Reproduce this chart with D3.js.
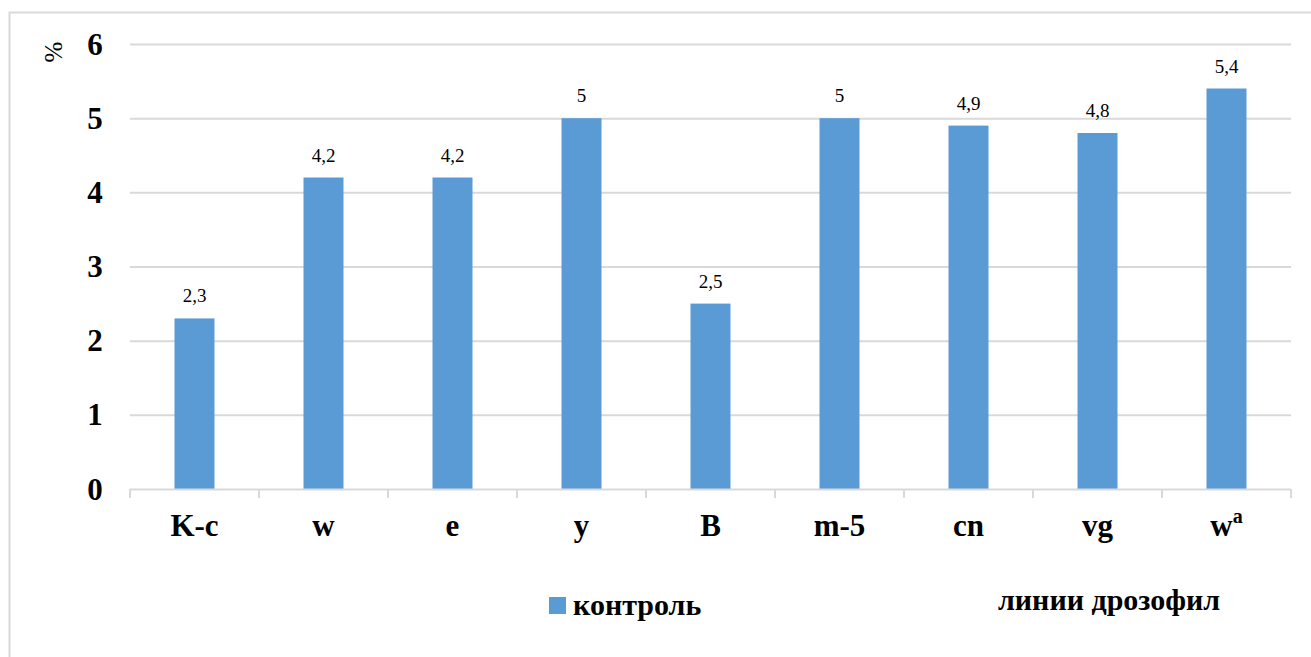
<!DOCTYPE html>
<html>
<head>
<meta charset="utf-8">
<script src="https://cdn.jsdelivr.net/npm/d3@7/dist/d3.min.js"></script>
</head>
<body style="margin:0">
<svg id="chart" width="1311" height="657"></svg>
<script>
// Drosophila lines and control values (%)
const categories = ["K-c", "w", "e", "y", "B", "m-5", "cn", "vg", "w^a"];
const controlValues = [2.3, 4.2, 4.2, 5, 2.5, 5, 4.9, 4.8, 5.4];
const yTicks = [0, 1, 2, 3, 4, 5, 6];
const seriesName = "контроль";
const xTitle = "линии дрозофил";
const yTitle = "%";

const chartW = 1311, chartH = 657;
const plotLeft = 130, plotRight = 1291, plotTop = 44, plotBottom = 489;
const barColor = "#5b9bd5";
const gridColor = "#d9d9d9";
const FONT = '"Liberation Serif"';

const svg = d3.select("#chart");

// chart frame
svg.append("path")
  .attr("d", `M9.5,${chartH} V12.5 H${chartW}`)
  .attr("fill", "none")
  .attr("stroke", gridColor)
  .attr("stroke-width", 2);

const x = d3.scaleBand().domain(categories).range([plotLeft, plotRight]).paddingInner(0.69).paddingOuter(0.345);
const xOuter = d3.scaleBand().domain(categories).range([plotLeft, plotRight]).padding(0);
const y = d3.scaleLinear().domain([0, 6]).range([plotBottom, plotTop]);

// horizontal gridlines
svg.selectAll("line.grid")
  .data(yTicks.filter(t => t > 0))
  .join("line")
  .attr("class", "grid")
  .attr("x1", plotLeft).attr("x2", plotRight)
  .attr("y1", d => y(d) + 0.5).attr("y2", d => y(d) + 0.5)
  .attr("stroke", gridColor).attr("stroke-width", 2);

const rows = categories.map((c, i) => ({ c, v: controlValues[i] }));

// bars
svg.selectAll("rect.bar")
  .data(rows)
  .join("rect")
  .attr("class", "bar")
  .attr("x", d => x(d.c))
  .attr("width", x.bandwidth())
  .attr("y", d => y(d.v))
  .attr("height", d => y(0) - y(d.v))
  .attr("fill", barColor);

// category axis line and tick marks
svg.append("line")
  .attr("x1", plotLeft).attr("x2", plotRight)
  .attr("y1", plotBottom + 0.5).attr("y2", plotBottom + 0.5)
  .attr("stroke", gridColor).attr("stroke-width", 2);
const tickXs = categories.map(c => xOuter(c)).concat([plotRight]);
svg.selectAll("line.tk")
  .data(tickXs)
  .join("line")
  .attr("class", "tk")
  .attr("x1", d => d).attr("x2", d => d)
  .attr("y1", plotBottom).attr("y2", plotBottom + 9)
  .attr("stroke", gridColor).attr("stroke-width", 2);

// all texts: tick labels, values, titles, legend
const texts = [];
yTicks.forEach(t => texts.push({ s: String(t), x: 95, y: y(t) + 10.5, size: 31, bold: true, anchor: "middle" }));
rows.forEach(d => texts.push({ s: String(d.v).replace(".", ","), x: x(d.c) + x.bandwidth() / 2, y: y(d.v) - 16, size: 19, bold: false, anchor: "middle" }));
categories.forEach(c => texts.push({ s: c, x: xOuter(c) + xOuter.bandwidth() / 2, y: 536, size: 31, bold: true, anchor: "middle" }));
texts.push({ s: seriesName, x: 573, y: 615, size: 30, bold: true, anchor: "start" });
texts.push({ s: xTitle, x: 998, y: 610, size: 30, bold: true, anchor: "start" });

const tx = svg.selectAll("text.lab")
  .data(texts)
  .join("text")
  .attr("class", "lab")
  .attr("x", d => d.x).attr("y", d => d.y)
  .attr("text-anchor", d => d.anchor)
  .style("font-family", FONT)
  .style("font-size", d => d.size + "px")
  .style("font-weight", d => d.bold ? "bold" : "normal")
  .attr("fill", "#000");
tx.each(function (d) {
  const t = d3.select(this);
  if (d.s.includes("^")) {
    const [base, sup] = d.s.split("^");
    t.append("tspan").text(base);
    t.append("tspan").attr("dy", -13).style("font-size", "20px").text(sup);
  } else {
    t.text(d.s);
  }
});

// y axis title
svg.append("text")
  .attr("transform", "translate(62,52) rotate(-90)")
  .attr("text-anchor", "middle")
  .style("font-family", FONT)
  .style("font-size", "25px")
  .attr("fill", "#000")
  .text(yTitle);

// legend swatch
svg.append("rect")
  .attr("x", 549).attr("y", 597).attr("width", 17).attr("height", 17)
  .attr("fill", barColor);
</script>
</body>
</html>
